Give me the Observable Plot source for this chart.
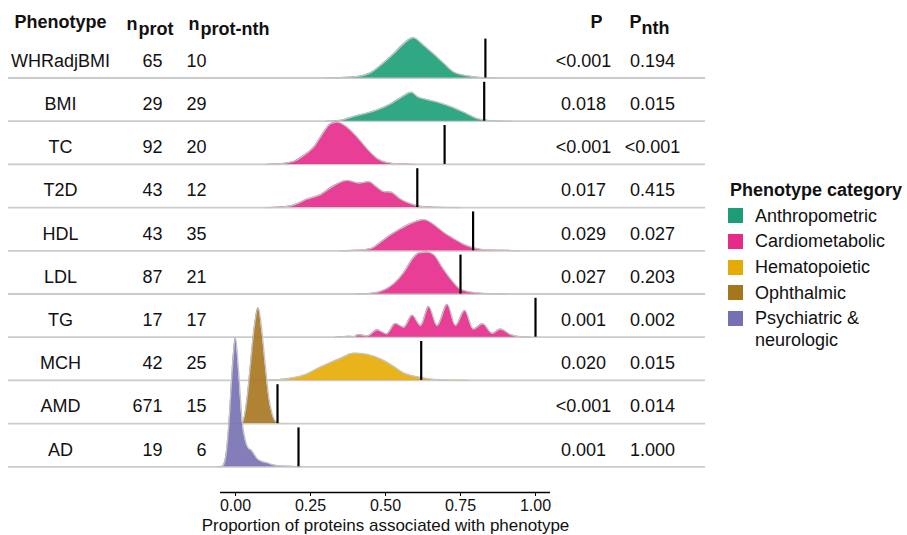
<!DOCTYPE html>
<html><head><meta charset="utf-8">
<script src="https://cdn.jsdelivr.net/npm/d3@7"></script>
<script src="https://cdn.jsdelivr.net/npm/@observablehq/plot@0.6"></script>
<style>
body{margin:0;background:#fff;font-family:"Liberation Sans",Arial,Helvetica,sans-serif;}
#wrap{position:relative;width:907px;height:535px;overflow:hidden;}
#legend{position:absolute;left:728px;top:179px;color:#111;font-size:18px;}
#legend .title{font-weight:bold;line-height:22px;height:22px;margin-left:2px;white-space:nowrap;}
#legend .item{display:flex;align-items:flex-start;line-height:22px;margin-top:3.7px;}
#legend .item:first-of-type{margin-top:9.7px;}
#legend .sw{width:15px;height:15px;margin-top:3.5px;margin-right:12px;flex:none;}
#legend .lab{width:150px;}
</style></head><body><div id="wrap"></div>
<script>
// ---- data ----
const phenotypes = ["WHRadjBMI","BMI","TC","T2D","HDL","LDL","TG","MCH","AMD","AD"];
const phenotypeCategory = ["Anthropometric","Anthropometric","Cardiometabolic","Cardiometabolic","Cardiometabolic","Cardiometabolic","Cardiometabolic","Hematopoietic","Ophthalmic","Psychiatric & neurologic"];
const nProt = [65,29,92,43,43,87,17,42,671,19];
const nProtNth = [10,29,20,12,35,21,17,25,15,6];
const pValue = ["<0.001","0.018","<0.001","0.017","0.029","0.027","0.001","0.020","<0.001","0.001"];
const pNth = ["0.194","0.015","<0.001","0.415","0.027","0.203","0.002","0.015","0.014","1.000"];
const observedProportion = [0.833,0.829,0.697,0.606,0.792,0.75,1.0,0.619,0.14,0.21];
const categories = ["Anthropometric","Cardiometabolic","Hematopoietic","Ophthalmic","Psychiatric & neurologic"];
const categoryColors = ["#1B9E77","#E7298A","#E6AB02","#A6761D","#7570B3"];
const xTicks = [0,0.25,0.5,0.75,1];
const xLabel = "Proportion of proteins associated with phenotype";

// density ridges: [proportion, scaled density]
const densWHRadjBMI = [[0.30,0],[0.35,0.01],[0.40,0.03],[0.45,0.12],[0.483,0.29],[0.527,0.56],[0.56,0.79],[0.593,0.93],[0.627,0.76],[0.66,0.56],[0.693,0.35],[0.727,0.14],[0.773,0.05],[0.817,0.01],[0.87,0]];
const densBMI = [[0.30,0],[0.34,0.01],[0.405,0.13],[0.44,0.19],[0.472,0.26],[0.517,0.40],[0.55,0.54],[0.587,0.67],[0.606,0.57],[0.639,0.50],[0.683,0.42],[0.728,0.31],[0.772,0.17],[0.806,0.06],[0.839,0.02],[0.872,0.005],[0.92,0]];
const densTC = [[0.10,0],[0.139,0.01],[0.194,0.07],[0.228,0.21],[0.261,0.40],[0.294,0.75],[0.317,0.94],[0.339,0.98],[0.372,0.86],[0.406,0.63],[0.439,0.36],[0.472,0.14],[0.506,0.04],[0.55,0.01],[0.60,0]];
const densT2D = [[0.10,0],[0.139,0.01],[0.194,0.06],[0.239,0.20],[0.283,0.30],[0.328,0.51],[0.372,0.63],[0.411,0.57],[0.444,0.60],[0.472,0.47],[0.494,0.37],[0.517,0.36],[0.55,0.20],[0.583,0.09],[0.617,0.03],[0.661,0.01],[0.75,0]];
const densHDL = [[0.35,0],[0.394,0.01],[0.45,0.05],[0.483,0.20],[0.517,0.37],[0.55,0.51],[0.583,0.63],[0.628,0.72],[0.661,0.61],[0.694,0.43],[0.728,0.28],[0.761,0.15],[0.794,0.07],[0.839,0.02],[0.906,0.01],[0.95,0]];
const densLDL = [[0.40,0],[0.439,0.01],[0.483,0.06],[0.528,0.24],[0.561,0.50],[0.594,0.85],[0.611,0.95],[0.639,0.97],[0.661,0.91],[0.689,0.62],[0.717,0.35],[0.744,0.14],[0.772,0.06],[0.817,0.02],[0.861,0.005],[0.90,0]];
const densTG = [[0.333,0],[0.36,0.014],[0.38,0.023],[0.395,0.012],[0.41,0.06],[0.44,0.03],[0.472,0.17],[0.503,0.08],[0.533,0.32],[0.561,0.23],[0.589,0.51],[0.617,0.27],[0.644,0.71],[0.672,0.27],[0.706,0.76],[0.733,0.27],[0.764,0.62],[0.793,0.19],[0.824,0.31],[0.856,0.09],[0.883,0.19],[0.917,0.06],[0.95,0.01],[0.983,0]];
const densMCH = [[0.08,0],[0.128,0.01],[0.183,0.05],[0.239,0.15],[0.272,0.27],[0.306,0.38],[0.35,0.51],[0.394,0.63],[0.439,0.60],[0.483,0.50],[0.528,0.32],[0.561,0.17],[0.594,0.10],[0.639,0.04],[0.683,0.01],[0.728,0.002],[0.78,0]];
const densAMD = [[0.0,0],[0.022,0.01],[0.039,0.61],[0.05,1.38],[0.061,2.15],[0.076,2.68],[0.089,2.08],[0.10,1.31],[0.111,0.61],[0.122,0.23],[0.137,0.03],[0.15,0]];
const densAD = [[-0.06,0],[-0.044,0.01],[-0.033,0.22],[-0.022,1.0],[-0.011,2.23],[0,2.98],[0.011,2.15],[0.022,1.07],[0.033,0.61],[0.044,0.42],[0.052,0.39],[0.061,0.30],[0.072,0.19],[0.089,0.12],[0.106,0.09],[0.122,0.05],[0.15,0.02],[0.183,0.01],[0.217,0]];
const densities = [densWHRadjBMI,densBMI,densTC,densT2D,densHDL,densLDL,densTG,densMCH,densAMD,densAD];

// ---- layout ----
const W = 907, H = 535;
const rowPx = 43.2, axisY = 492, lastBase = 466.3;
const yMin = -(axisY - lastBase) / rowPx, yMax = lastBase / rowPx;
const n = phenotypes.length;
const rows = phenotypes.map((p, i) => ({
  name: p, category: phenotypeCategory[i], base: n - 1 - i,
  nProt: nProt[i], nNth: nProtNth[i], p: pValue[i], pNth: pNth[i], obs: observedProportion[i]
}));
const FS = 18, TXT = "#111";

const marks = [];
marks.push(Plot.ruleY(rows, {y: "base", stroke: "#cbcbcb", strokeWidth: 1.8, insetLeft: -212, insetRight: -155}));
rows.forEach((r, i) => {
  const pts = densities[i].map(([x, h]) => ({x, y1: r.base, y2: r.base + h, category: r.category}));
  marks.push(Plot.areaY(pts, {x: "x", y1: "y1", y2: "y2", fill: "category", fillOpacity: 0.9, curve: "monotone-x"}));
  marks.push(Plot.lineY(pts, {x: "x", y: "y2", stroke: "#c4c4c4", strokeWidth: 1.3, curve: "monotone-x"}));
});
marks.push(Plot.ruleX(rows, {x: "obs", y1: "base", y2: d => d.base + 0.9, stroke: "black", strokeWidth: 2.2}));
marks.push(Plot.ruleY([yMin], {stroke: "black", strokeWidth: 1.3}));
marks.push(Plot.axisX({ticks: xTicks, tickFormat: d3.format(".2f"), tickSize: 4, tickPadding: 3, fontSize: 16, label: null, stroke: "black", fill: TXT}));
marks.push(Plot.text([xLabel], {frameAnchor: "bottom", dy: 33, lineAnchor: "middle", fontSize: 17, fill: TXT}));

// table cells
const cell = (key, anchor, dx, ta) => Plot.text(rows, {y: "base", text: key, frameAnchor: anchor, dx, dy: -17, lineAnchor: "middle", textAnchor: ta, fontSize: FS, fill: TXT});
marks.push(cell("name", "left", -160, "middle"));
marks.push(cell("nProt", "left", -58, "end"));
marks.push(cell("nNth", "left", -14, "end"));
marks.push(cell("p", "right", 33, "middle"));
marks.push(cell("pNth", "right", 102, "middle"));

// headers
const head = (t, anchor, dx, dy, ta) => Plot.text([t], {frameAnchor: anchor, dx, dy, lineAnchor: "middle", textAnchor: ta, fontSize: FS, fontWeight: "bold", fill: TXT});
marks.push(head("Phenotype", "top-left", -160, 22, "middle"));
marks.push(head("n", "top-left", -83, 24, "end"));
marks.push(head("prot", "top-left", -82, 29, "start"));
marks.push(head("n", "top-left", -21, 24, "end"));
marks.push(head("prot-nth", "top-left", -20, 29, "start"));
marks.push(head("P", "top-right", 46, 22, "middle"));
marks.push(head("P", "top-right", 91, 22, "end"));
marks.push(head("nth", "top-right", 91, 28, "start"));

const chart = Plot.plot({
  width: W, height: H,
  marginLeft: 220, marginRight: 357, marginTop: 0, marginBottom: H - axisY,
  x: {domain: [-0.05, 1.05]},
  y: {domain: [yMin, yMax], axis: null},
  color: {domain: categories, range: categoryColors},
  style: {fontFamily: "'Liberation Sans', Arial, Helvetica, sans-serif", fontSize: "18px", background: "white", overflow: "visible"},
  marks
});
const wrap = document.getElementById("wrap");
wrap.appendChild(chart);

// legend
const color = chart.scale("color");
const leg = document.createElement("div");
leg.id = "legend";
const t = document.createElement("div"); t.className = "title"; t.textContent = "Phenotype category"; leg.appendChild(t);
color.domain.forEach((c, i) => {
  const it = document.createElement("div"); it.className = "item";
  const sw = document.createElement("div"); sw.className = "sw"; sw.style.background = color.range[i];
  const lb = document.createElement("div"); lb.className = "lab"; lb.textContent = c;
  it.appendChild(sw); it.appendChild(lb); leg.appendChild(it);
});
wrap.appendChild(leg);
</script></body></html>
